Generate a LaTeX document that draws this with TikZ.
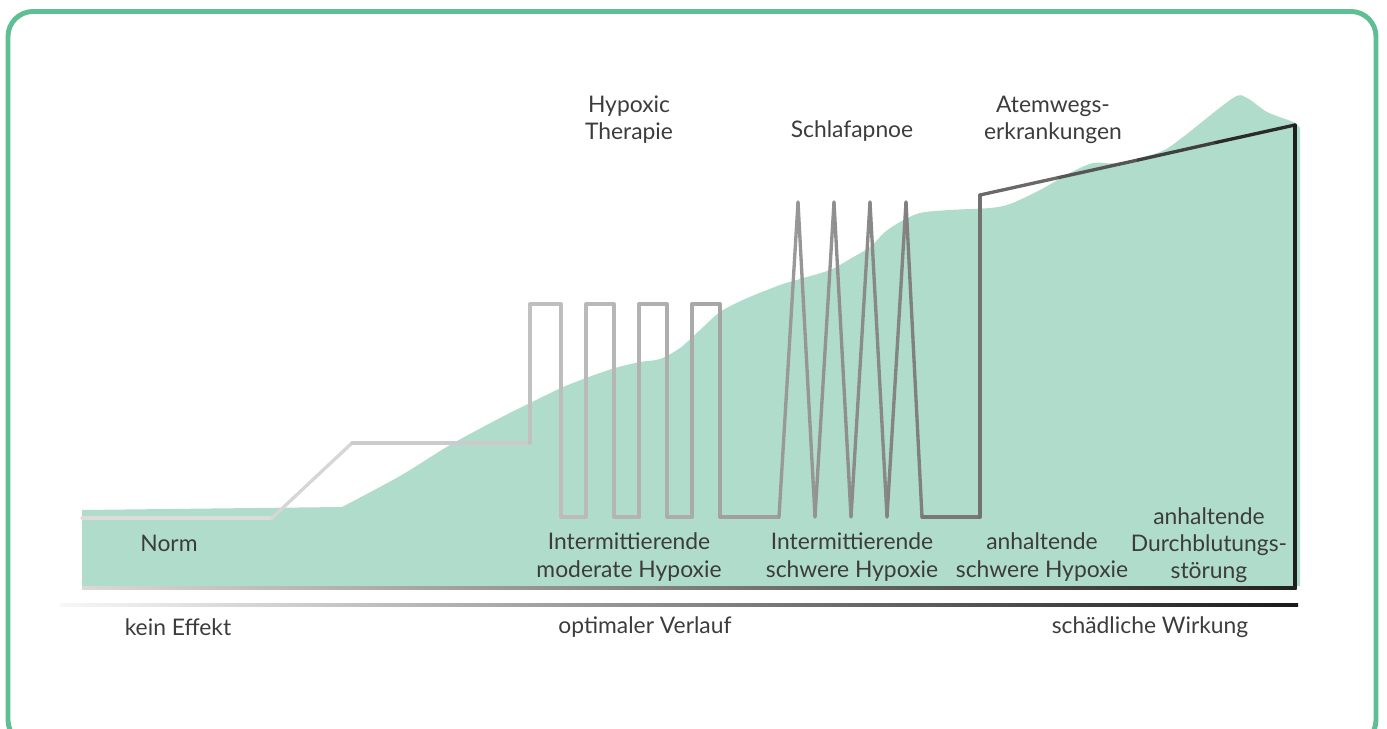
\documentclass[tikz,border=0pt]{standalone}
\usepackage{fontspec}
\setmainfont{Lato}
\definecolor{frame}{HTML}{5FBF94}
\definecolor{hill}{HTML}{B0DCCB}
\definecolor{txt}{HTML}{3C3C3C}
\tikzset{
  lbl/.style={text=txt, align=center, inner sep=0pt, font=\fontsize{13}{15.5}\selectfont},
  curve/.style={line width=1.9pt, line cap=round, line join=miter},
}
\begin{document}
\begin{tikzpicture}[x=0.02cm,y=-0.02cm]
 \useasboundingbox (0,0) rectangle (1387,729);
 \clip (0,0) rectangle (1387,729);
 % frame
 \draw[frame, line width=2.8pt, rounded corners=0.5cm] (8,11.5) rectangle (1376,745);
 % green hill
 \fill[hill] (82,586) -- (82,510) -- (342,507) -- plot[smooth, tension=0.5] coordinates {(342,507) (400,476) (450,445) (500,418) (530,403) (561,388) (586,378) (615,368) (640,362) (660,359) (680,348) (700,330) (720,312) (745,299) (780,285) (800,279) (830,270) (850,259) (870,247) (885,232) (900,222) (920,213) (950,210) (990,208) (1010,204) (1040,190) (1070,173) (1093,163) (1117,163) (1160,152) (1183,137) (1233,98) (1247,98) (1267,112) (1293,122) (1300,128)} -- (1300,586) -- cycle;
 % course of the oxygen level
 \foreach \px/\py [remember=\px as \qx (initially 82), remember=\py as \qy (initially 518)] in
   {272/518, 352/443, 530/443, 530/304, 561/304, 561/517, 586/517, 586/304, 614/304, 614/517,
    639/517, 639/304, 667/304, 667/517, 692/517, 692/304, 720/304, 720/517, 779/517,
    798/202, 815/517, 834/202, 851/517, 870/202, 887/517, 906/202, 922/517, 980/517,
    980/195, 1059/177.5, 1138/160, 1216/142.5, 1295/125, 1295/588} {
   \pgfmathsetmacro\tone{13+75*((((\px+\qx)/2)-82)/1213)^1.9}
   \draw[curve, draw=black!\tone] (\qx,\qy) -- (\px,\py);
 }
 \shade[left color=black!15, right color=black!87] (82,587) rectangle (1296.5,590);
 % axis
 \shade[left color=black!3, right color=black!90] (60,603.5) rectangle (1298,606.5);
 % labels top
 \node[lbl] (hypo) at (629,120) {Hypoxic\\Therapie};
 \node[lbl] (apnoe) at (852,131) {Schlafapnoe};
 \node[lbl] (airway) at (1053,120) {Atemwegs-\\erkrankungen};
 % labels bottom
 \node[lbl] (norm) at (169,543) {Norm};
 \node[lbl] (modhyp) at (629,557) {Intermittierende\\moderate Hypoxie};
 \node[lbl] (sevhyp) at (852,557) {Intermittierende\\schwere Hypoxie};
 \node[lbl] (conthyp) at (1042,557) {anhaltende\\schwere Hypoxie};
 \node[lbl] (perf) at (1209,545) {anhaltende\\Durchblutungs-\\störung};
 % axis labels
 \node[lbl] (noeff) at (178,627) {kein Effekt};
 \node[lbl] (optim) at (645,627) {optimaler Verlauf};
 \node[lbl] (harm) at (1150,627) {schädliche Wirkung};
\end{tikzpicture}
\end{document}
